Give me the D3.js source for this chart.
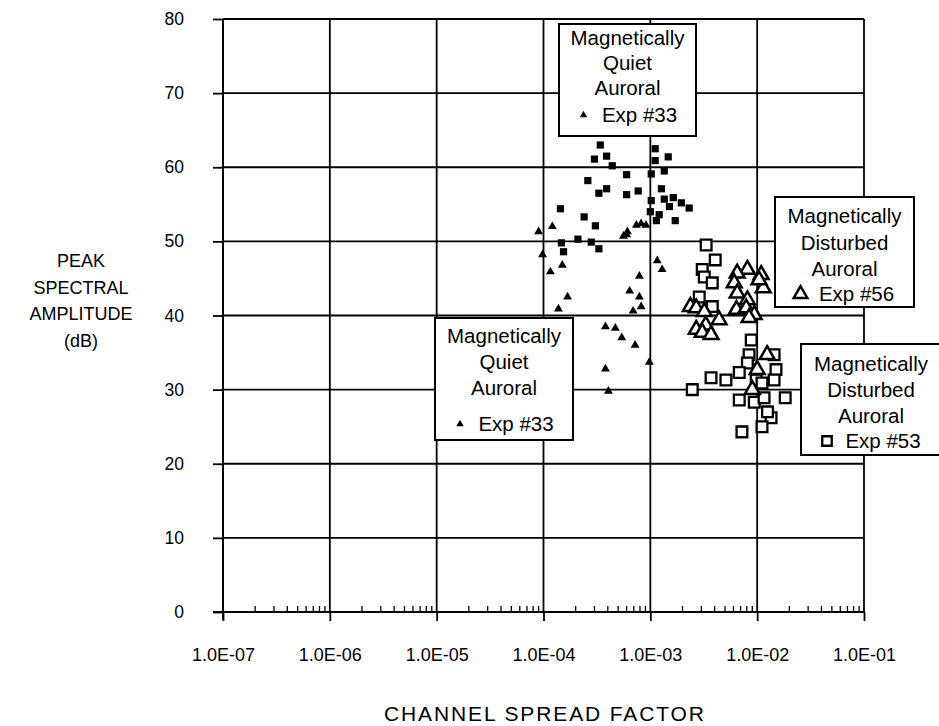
<!DOCTYPE html>
<html>
<head>
<meta charset="utf-8">
<script src="https://cdn.jsdelivr.net/npm/d3@7/dist/d3.min.js"></script>
<style>
  html, body { margin: 0; padding: 0; background: #fff; }
  svg { display: block; }
  text { font-family: "Liberation Sans", Arial, Helvetica, sans-serif; fill: #000; }
</style>
</head>
<body>
<svg id="chart" width="939" height="726"></svg>
<script>
// Channel spread factor vs. peak spectral amplitude, by experiment.

// Exp #33 (quiet auroral) - filled squares, [spread, dB]
const exp33Squares = [
  [3.4e-4, 63.0], [3.0e-4, 61.1], [3.9e-4, 61.5], [4.4e-4, 60.2], [2.6e-4, 58.2],
  [3.3e-4, 56.5], [3.9e-4, 57.1], [6.0e-4, 59.0], [6.0e-4, 56.3], [7.7e-4, 56.8],
  [1.11e-3, 62.5], [1.11e-3, 60.9], [1.02e-3, 59.1], [1.47e-3, 61.4], [1.35e-3, 59.5],
  [1.27e-3, 57.1], [1.02e-3, 55.5], [1.35e-3, 55.7], [1.64e-3, 55.9], [1.44e-4, 54.4],
  [2.4e-4, 53.3], [3.06e-4, 52.1], [1.14e-3, 52.8], [1.71e-3, 52.8], [1.0e-3, 54.0],
  [1.51e-3, 54.7], [1.95e-3, 55.2], [2.31e-3, 54.5], [1.47e-4, 49.8], [1.54e-4, 48.6],
  [2.1e-4, 50.3], [2.8e-4, 49.9], [3.3e-4, 49.0], [1.21e-3, 53.6]
];

// Exp #33 (quiet auroral) - filled triangles, [spread, dB]
const exp33Triangles = [
  [9.8e-5, 48.2], [1.16e-4, 45.9], [1.5e-4, 46.8], [1.68e-4, 42.5], [1.38e-4, 40.9],
  [3.8e-4, 38.5], [4.7e-4, 38.3], [5.4e-4, 37.0], [7.2e-4, 36.0], [3.8e-4, 32.8],
  [4.05e-4, 29.8], [9.8e-4, 33.7], [1.16e-3, 47.4], [1.29e-3, 46.2], [7.9e-4, 45.3],
  [6.4e-4, 43.3], [7.9e-4, 42.5], [6.9e-4, 40.6], [8.2e-4, 41.2], [6.0e-4, 50.9],
  [9.0e-5, 51.3], [1.21e-4, 52.0], [5.6e-4, 50.7], [6.1e-4, 51.3], [7.4e-4, 52.2],
  [8.2e-4, 52.4], [9.1e-4, 52.2]
];

// Exp #56 (disturbed auroral) - open triangles, [spread, dB]
const exp56Triangles = [
  [8.1e-3, 46.2], [6.5e-3, 45.7], [1.09e-2, 45.5], [6.1e-3, 44.4], [1.14e-2, 43.7],
  [6.5e-3, 43.0], [8.1e-3, 42.1], [6.4e-3, 40.8], [7.9e-3, 41.0], [9.4e-3, 40.1],
  [8.4e-3, 39.7], [2.37e-3, 41.2], [2.69e-3, 41.0], [3.2e-3, 40.5], [4.4e-3, 39.4],
  [3.3e-3, 38.7], [2.69e-3, 38.1], [3.06e-3, 37.7], [3.7e-3, 37.4], [1.04e-2, 44.8],
  [1.24e-2, 34.7], [1.0e-2, 32.7], [9.0e-3, 30.0]
];

// Exp #53 (disturbed auroral) - open squares, [spread, dB]
const exp53Squares = [
  [3.33e-3, 49.5], [4.05e-3, 47.5], [3.06e-3, 46.2], [3.2e-3, 45.2], [3.8e-3, 44.4],
  [2.87e-3, 42.5], [3.8e-3, 41.2], [8.8e-3, 36.7], [8.4e-3, 34.7], [1.44e-2, 34.7],
  [8.1e-3, 33.6], [1.5e-2, 32.7], [3.7e-3, 31.6], [5.1e-3, 31.3], [6.8e-3, 32.3],
  [9.8e-3, 31.3], [1.44e-2, 31.3], [2.47e-3, 30.0], [6.8e-3, 28.6], [9.4e-3, 28.3],
  [1.16e-2, 28.9], [1.83e-2, 28.9], [1.35e-2, 26.2], [1.11e-2, 25.0], [7.2e-3, 24.3],
  [1.25e-2, 27.0], [1.11e-2, 30.9]
];

const xTickValues = [1e-7, 1e-6, 1e-5, 1e-4, 1e-3, 1e-2, 1e-1];
const xTickLabels = ["1.0E-07", "1.0E-06", "1.0E-05", "1.0E-04", "1.0E-03", "1.0E-02", "1.0E-01"];
const yTickValues = [0, 10, 20, 30, 40, 50, 60, 70, 80];
const yTitleLines = ["PEAK", "SPECTRAL", "AMPLITUDE", "(dB)"];
const xTitle = "CHANNEL SPREAD FACTOR";

const legendQuietTop = ["Magnetically", "Quiet", "Auroral", "Exp #33"];
const legendQuietLow = ["Magnetically", "Quiet", "Auroral", "Exp #33"];
const legendDist56 = ["Magnetically", "Disturbed", "Auroral", "Exp #56"];
const legendDist53 = ["Magnetically", "Disturbed", "Auroral", "Exp #53"];

const svg = d3.select("#chart");
const plot = { left: 223, right: 864, top: 19, bottom: 612 };

const x = d3.scaleLog().domain([1e-7, 1e-1]).range([plot.left, plot.right]);
const y = d3.scaleLinear().domain([0, 80]).range([plot.bottom, plot.top]);

// Grid
const grid = svg.append("g").attr("stroke", "#000").attr("stroke-width", 1.8);
grid.selectAll("line.h").data(yTickValues.filter(v => v > 0)).join("line")
  .attr("x1", plot.left).attr("x2", plot.right)
  .attr("y1", d => y(d)).attr("y2", d => y(d));
grid.selectAll("line.v").data(xTickValues.filter(v => v > 1e-7)).join("line")
  .attr("x1", d => x(d)).attr("x2", d => x(d))
  .attr("y1", plot.top).attr("y2", plot.bottom);

// Minor ticks (2..9 within each decade) along the bottom axis
const minor = [];
for (let e = -7; e < -1; e++) for (let m = 2; m <= 9; m++) minor.push(m * Math.pow(10, e));
svg.append("g").attr("stroke", "#000").attr("stroke-width", 1.3)
  .selectAll("line").data(minor).join("line")
  .attr("x1", d => x(d)).attr("x2", d => x(d))
  .attr("y1", plot.bottom).attr("y2", plot.bottom - 6);

// Axes
const xAxis = d3.axisBottom(x).tickValues(xTickValues)
  .tickFormat((d, i) => xTickLabels[i]).tickSize(9).tickPadding(27);
const gx = svg.append("g").attr("transform", `translate(0,${plot.bottom})`).call(xAxis);
gx.select(".domain").attr("stroke-width", 2).attr("d", `M${plot.left - 10},0H${plot.right}`);
gx.selectAll(".tick line").attr("stroke-width", 1.8);
gx.selectAll(".tick text").attr("font-size", 18).attr("font-family", '"Liberation Sans", Arial, sans-serif');

const yAxis = d3.axisLeft(y).tickValues(yTickValues).tickSize(10).tickPadding(29);
const gy = svg.append("g").attr("transform", `translate(${plot.left},0)`).call(yAxis);
gy.select(".domain").attr("stroke-width", 2).attr("d", `M0,${plot.bottom + 8}V${plot.top}`);
gy.selectAll(".tick line").attr("stroke-width", 1.8);
gy.selectAll(".tick text").attr("font-size", 17.5).attr("font-family", '"Liberation Sans", Arial, sans-serif');

// Axis titles
svg.append("g").selectAll("text").data(yTitleLines).join("text")
  .attr("x", 81).attr("y", (d, i) => 267 + i * 26.7)
  .attr("text-anchor", "middle").attr("font-size", 18).text(d => d);
svg.append("text").attr("x", 544).attr("y", 721).attr("text-anchor", "middle")
  .attr("font-size", 21).attr("textLength", 320).attr("lengthAdjust", "spacing")
  .text(xTitle);

// Marks
const sym = (type, size) => d3.symbol().type(type).size(size)();
const pts = svg.append("g");
pts.selectAll("path.s33").data(exp33Squares).join("path")
  .attr("transform", d => `translate(${x(d[0])},${y(d[1])})`)
  .attr("d", sym(d3.symbolSquare, 52)).attr("fill", "#000");
pts.selectAll("path.t33").data(exp33Triangles).join("path")
  .attr("transform", d => `translate(${x(d[0])},${y(d[1])})`)
  .attr("d", sym(d3.symbolTriangle, 34)).attr("fill", "#000");
pts.selectAll("path.s53").data(exp53Squares).join("path")
  .attr("transform", d => `translate(${x(d[0])},${y(d[1])})`)
  .attr("d", sym(d3.symbolSquare, 115)).attr("fill", "#fff")
  .attr("stroke", "#000").attr("stroke-width", 2.3);
pts.selectAll("path.t56").data(exp56Triangles).join("path")
  .attr("transform", d => `translate(${x(d[0])},${y(d[1])})`)
  .attr("d", sym(d3.symbolTriangle, 95)).attr("fill", "#fff")
  .attr("stroke", "#000").attr("stroke-width", 2.5).attr("stroke-linejoin", "miter");

// Legend boxes
function legendBox(lines, bx, by, bw, bh, lineYs, markerType) {
  const g = svg.append("g");
  g.append("rect").attr("x", bx).attr("y", by).attr("width", bw).attr("height", bh)
    .attr("fill", "#fff").attr("stroke", "#000").attr("stroke-width", 2);
  const cx = bx + bw / 2;
  lines.slice(0, 3).forEach((t, i) => {
    g.append("text").attr("x", cx).attr("y", lineYs[i]).attr("text-anchor", "middle")
      .attr("font-size", 20.5).text(t);
  });
  g.append("text").attr("x", cx + 12).attr("y", lineYs[3]).attr("text-anchor", "middle")
    .attr("font-size", 20.5).text(lines[3]);
  const mx = cx - 44, my = lineYs[3] - 7;
  if (markerType === "filledTri") {
    g.append("path").attr("transform", `translate(${mx},${my})`)
      .attr("d", sym(d3.symbolTriangle, 24)).attr("fill", "#000");
  } else if (markerType === "openTri") {
    g.append("path").attr("transform", `translate(${mx},${my})`)
      .attr("d", sym(d3.symbolTriangle, 80)).attr("fill", "#fff")
      .attr("stroke", "#000").attr("stroke-width", 2.5);
  } else {
    g.append("path").attr("transform", `translate(${mx},${my})`)
      .attr("d", sym(d3.symbolSquare, 90)).attr("fill", "#fff")
      .attr("stroke", "#000").attr("stroke-width", 2.3);
  }
}

legendBox(legendQuietTop, 559, 24, 137, 112, [45, 70, 95, 122], "filledTri");
legendBox(legendQuietLow, 435, 318, 138, 122, [343, 369, 395, 431], "filledTri");
legendBox(legendDist56, 775, 197, 139, 110, [223, 250, 276, 301], "openTri");
legendBox(legendDist53, 801, 344, 140, 111, [371, 397, 423, 448], "openSq");
</script>
</body>
</html>
